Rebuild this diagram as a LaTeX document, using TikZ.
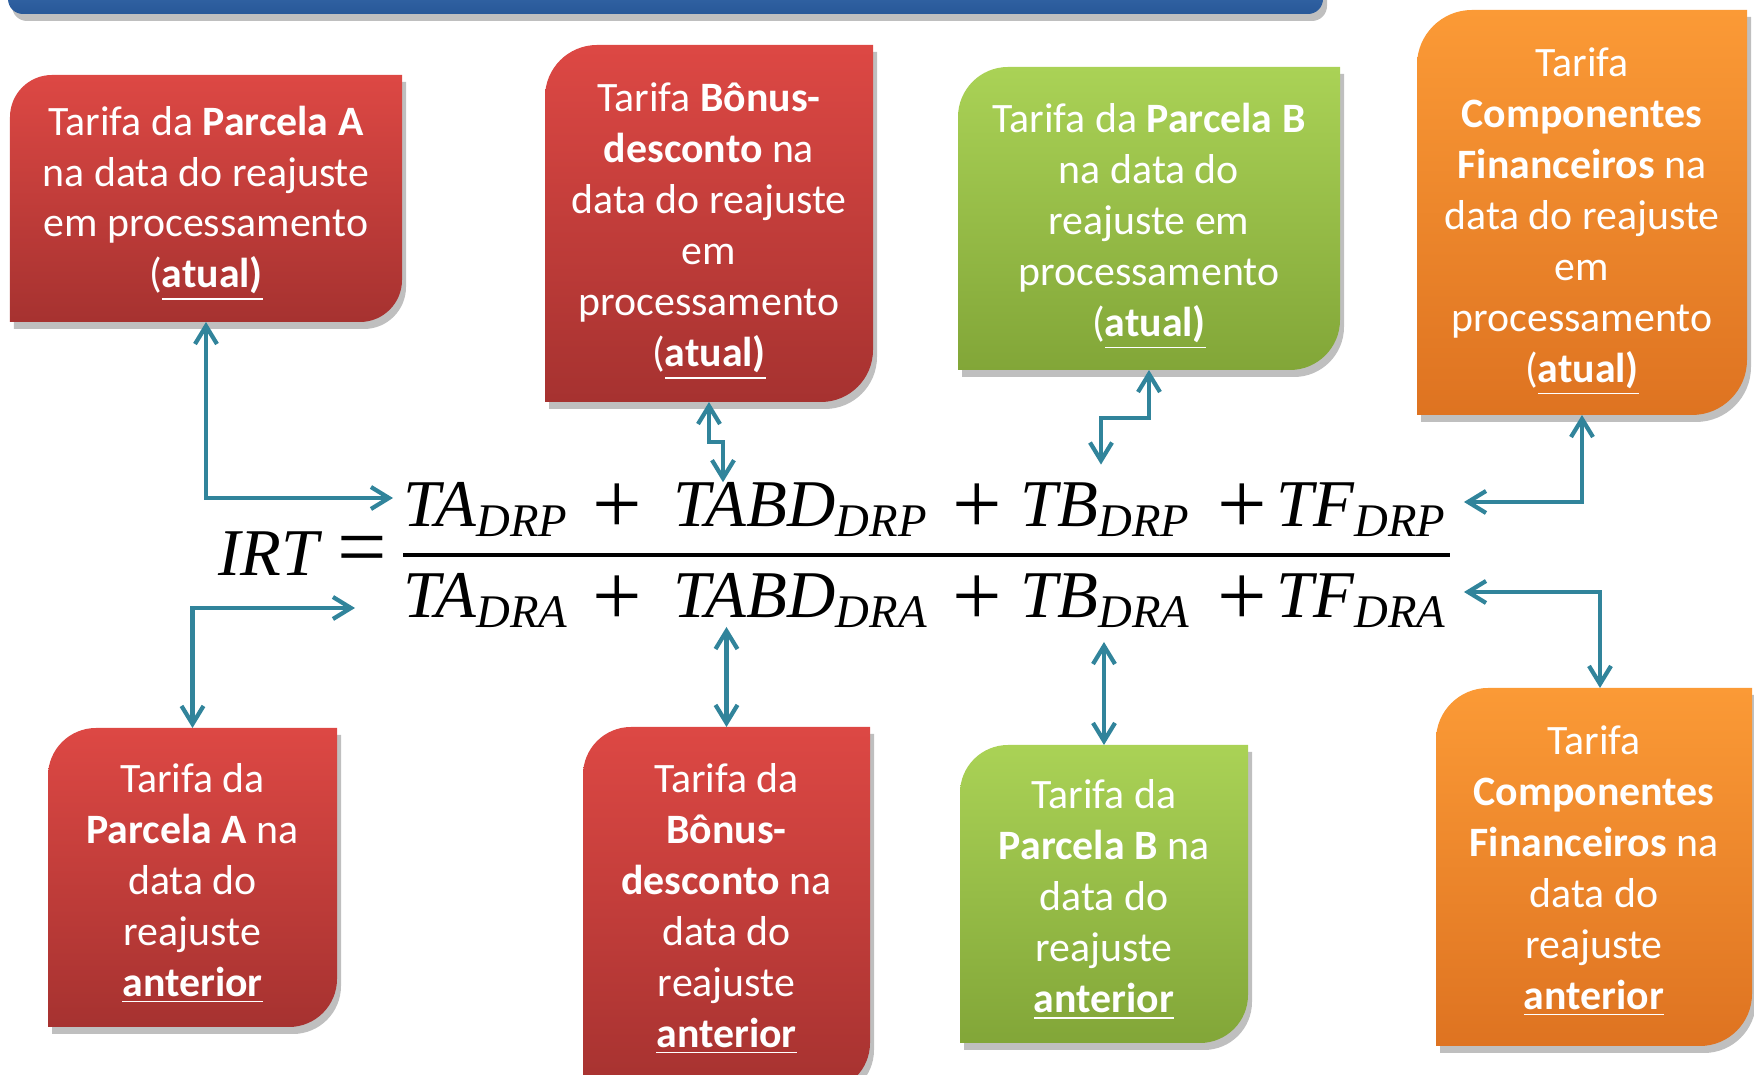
\documentclass[tikz,border=0pt]{standalone}
\usepackage{fontspec}
\setmainfont{Carlito}
\newfontfamily\eqfont{Liberation Serif}
\usetikzlibrary{arrows.meta, positioning, shadows, backgrounds}
\definecolor{linkblue}{RGB}{49,132,155}
\definecolor{bartop}{RGB}{62,112,178}
\definecolor{barbot}{RGB}{40,88,152}
\definecolor{redtop}{RGB}{221,72,68}
\definecolor{redbot}{RGB}{166,50,48}
\definecolor{greentop}{RGB}{170,210,86}
\definecolor{greenbot}{RGB}{130,166,56}
\definecolor{orangetop}{RGB}{251,154,54}
\definecolor{orangebot}{RGB}{222,115,33}

\begin{document}
\begin{tikzpicture}[>={Straight Barb[length=1.8mm,width=2.2mm]}]
    \tikzstyle{tile}=[inner sep=0pt, outer sep=0pt]
    \tikzstyle{tile text}=[align=center, text=white, inner sep=0pt, font=\fontsize{11.9}{14.5}\selectfont]
    \tikzstyle{red tile}=[top color=redtop, bottom color=redbot]
    \tikzstyle{green tile}=[top color=greentop, bottom color=greenbot]
    \tikzstyle{orange tile}=[top color=orangetop, bottom color=orangebot]
    \tikzstyle{soft shadow}=[drop shadow={shadow xshift=0.4mm, shadow yshift=-0.7mm, opacity=0.25, fill=black}]
    \tikzstyle{term}=[anchor=base west, inner xsep=1mm, inner ysep=0pt, font=\eqfont\fontsize{19}{22}\selectfont\itshape]
    \tikzstyle{sign}=[anchor=center, inner sep=0pt, font=\eqfont\fontsize{25}{28}\selectfont]
    \tikzstyle{link}=[<->, draw=linkblue, line width=1.2pt]

    \useasboundingbox (0,0) rectangle (17.54,-10.75);

    % title bar
    \path[top color=bartop, bottom color=barbot, rounded corners=1.5mm, soft shadow] (0.08,0.3) rectangle (13.23,-0.14);

    % tariffs now
    \node[tile, minimum width=3.92cm, minimum height=2.47cm] (pa1) at (2.06,-1.985) {};
    \node[tile, minimum width=3.28cm, minimum height=3.57cm] (pbd1) at (7.09,-2.235) {};
    \node[tile, minimum width=3.82cm, minimum height=3.03cm] (pb1) at (11.49,-2.185) {};
    \node[tile, minimum width=3.30cm, minimum height=4.05cm] (pf1) at (15.82,-2.125) {};

    % tariffs before
    \node[tile, minimum width=2.89cm, minimum height=2.99cm] (pa2) at (1.925,-8.775) {};
    \node[tile, minimum width=2.87cm, minimum height=3.64cm] (pbd2) at (7.265,-9.09) {};
    \node[tile, minimum width=2.88cm, minimum height=2.98cm] (pb2) at (11.04,-8.94) {};
    \node[tile, minimum width=3.16cm, minimum height=3.58cm] (pf2) at (15.94,-8.67) {};

    \begin{scope}[on background layer]
    \foreach \n/\c/\r in {pa1/red tile/0.42, pbd1/red tile/0.52, pb1/green tile/0.5, pf1/orange tile/0.55,
                          pa2/red tile/0.48, pbd2/red tile/0.48, pb2/green tile/0.48, pf2/orange tile/0.52}
        \path[\c, soft shadow] (\n.north east) -- ([yshift=\r cm]\n.south east)
            arc[start angle=0, end angle=-90, radius=\r cm] -- (\n.south west)
            -- ([yshift=-\r cm]\n.north west) arc[start angle=180, end angle=90, radius=\r cm] -- cycle;
    \end{scope}

    \node[tile text] (pa1t) at ([yshift=-0.5mm]pa1.center)
        {Tarifa da \textbf{Parcela A}\\ na data do reajuste\\ em processamento\\ (\underline{\textbf{atual)}}};
    \node[tile text] (pbd1t) at ([yshift=-0.8mm]pbd1.center)
        {Tarifa \textbf{Bônus-}\\ \textbf{desconto} na\\ data do reajuste\\ em\\ processamento\\ (\underline{\textbf{atual)}}};
    \node[tile text] (pb1t) at ([yshift=-0.8mm]pb1.center)
        {Tarifa da \textbf{Parcela B}\\ na data do\\ reajuste em\\ processamento\\ (\underline{\textbf{atual)}}};
    \node[tile text] (pf1t) at ([yshift=-0.9mm]pf1.center)
        {Tarifa\\ \textbf{Componentes}\\ \textbf{Financeiros} na\\ data do reajuste\\ em\\ processamento\\ (\underline{\textbf{atual)}}};
    \node[tile text] (pa2t) at ([yshift=-0.6mm]pa2.center)
        {Tarifa da\\ \textbf{Parcela A} na\\ data do\\ reajuste\\ \underline{\textbf{anterior}}};
    \node[tile text] (pbd2t) at (pbd2.center)
        {Tarifa da\\ \textbf{Bônus-}\\ \textbf{desconto} na\\ data do\\ reajuste\\ \underline{\textbf{anterior}}};
    \node[tile text] (pb2t) at ([yshift=-0.6mm]pb2.center)
        {Tarifa da\\ \textbf{Parcela B} na\\ data do\\ reajuste\\ \underline{\textbf{anterior}}};
    \node[tile text] (pf2t) at ([yshift=-0.4mm]pf2.center)
        {Tarifa\\ \textbf{Componentes}\\ \textbf{Financeiros} na\\ data do\\ reajuste\\ \underline{\textbf{anterior}}};

    % the formula
    \node[term] (irt) at (2.08,-5.76) {IRT};
    \node[sign] (eq) at (3.62,-5.56) {=};

    \node[term] (tan) at (3.93,-5.27) {TA\textsubscript{DRP}};
    \node[sign] (pl1) at (6.17,-5.09) {+};
    \node[term] (tabdn) at (6.63,-5.27) {TABD\textsubscript{DRP}};
    \node[sign] (pl2) at (9.77,-5.09) {+};
    \node[term] (tbn) at (10.10,-5.27) {TB\textsubscript{DRP}};
    \node[sign] (pl3) at (12.42,-5.09) {+};
    \node[term] (tfn) at (12.66,-5.27) {TF\textsubscript{DRP}};

    \draw[line width=1.1pt] (4.03,-5.55) -- (14.50,-5.55);

    \node[term] (tad) at (3.93,-6.18) {TA\textsubscript{DRA}};
    \node[sign] (pl4) at (6.17,-6.01) {+};
    \node[term] (tabdd) at (6.63,-6.18) {TABD\textsubscript{DRA}};
    \node[sign] (pl5) at (9.77,-6.01) {+};
    \node[term] (tbd) at (10.10,-6.18) {TB\textsubscript{DRA}};
    \node[sign] (pl6) at (12.42,-6.01) {+};
    \node[term] (tfd) at (12.66,-6.18) {TF\textsubscript{DRA}};

    % links
    \draw[link] (pa1.south) |- ([yshift=2.9mm]tan.base west);
    \draw[link] (pbd1.south) -- ++(0,-0.4) -| ([xshift=6mm]tabdn.north west);
    \draw[link] (pb1.south) -- ++(0,-0.48) -| ([xshift=9.1mm,yshift=1.8mm]tbn.north west);
    \draw[link] (pf1.south) |- ([xshift=0.6mm,yshift=2.5mm]tfn.base east);

    \draw[link] (pa2.north) |- ([xshift=-3.8mm,yshift=1mm]tad.base west);
    \draw[link] (pbd2.north) -- ([yshift=-0.9mm]pbd2.north |- tabdd.base);
    \draw[link] (pb2.north) -- ([yshift=-2.4mm]pb2.north |- tbd.base);
    \draw[link] ([xshift=0.6mm]pf2.north) |- ([xshift=0.6mm,yshift=2.6mm]tfd.base east);
\end{tikzpicture}
\end{document}
